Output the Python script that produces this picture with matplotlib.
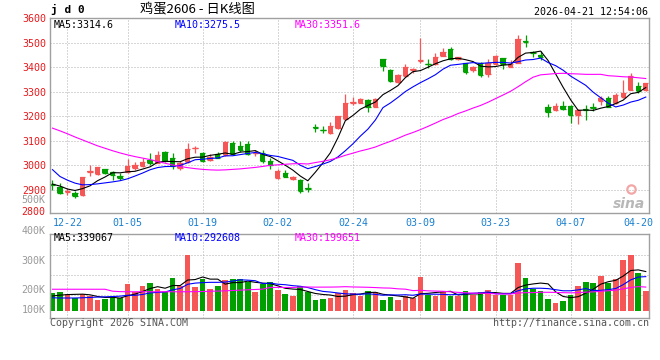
import matplotlib
matplotlib.use('Agg')
import matplotlib.pyplot as plt
import numpy as np
import pandas as pd

# jd2606 daily bars, 2025-12-18 .. 2026-04-21
opens = [2926, 2912, 2892, 2889, 2879, 2974, 2965, 2984, 2975, 2958,
         2972, 2989, 2997, 3022, 3012, 3056, 3031, 2990, 3013, 3070,
         3051, 3021, 3047, 3041, 3093, 3081, 3087, 3050, 3051, 3019,
         2949, 2971, 2944, 2941, 2909, 3155, 3146, 3131, 3151, 3188,
         3254, 3256, 3267, 3239, 3432, 3389, 3339, 3364, 3388, 3425,
         3414, 3413, 3447, 3473, 3432, 3416, 3389, 3419, 3372, 3412,
         3436, 3402, 3416, 3506, 3463, 3452, 3237, 3226, 3242, 3242,
         3206, 3228, 3237, 3264, 3273, 3253, 3280, 3307, 3324, 3307]
highs = [2940, 2928, 2910, 2895, 2952, 3000, 2995, 2986, 2977, 2968,
         3026, 3016, 3031, 3052, 3057, 3058, 3052, 3020, 3090, 3078,
         3053, 3048, 3055, 3099, 3100, 3099, 3100, 3065, 3065, 3030,
         2987, 2980, 2958, 2944, 2930, 3170, 3161, 3178, 3201, 3291,
         3280, 3273, 3271, 3273, 3432, 3391, 3371, 3412, 3398, 3520,
         3432, 3457, 3477, 3484, 3443, 3419, 3406, 3423, 3432, 3450,
         3439, 3429, 3531, 3531, 3466, 3466, 3250, 3253, 3263, 3246,
         3229, 3246, 3256, 3283, 3283, 3296, 3348, 3375, 3341, 3337]
lows = [2899, 2883, 2880, 2869, 2876, 2955, 2962, 2967, 2941, 2940,
        2970, 2983, 2994, 3003, 3010, 3014, 2986, 2983, 3011, 3049,
        3016, 3020, 3030, 3040, 3044, 3055, 3042, 3037, 3012, 2987,
        2946, 2953, 2941, 2887, 2893, 3138, 3133, 3128, 3148, 3185,
        3246, 3253, 3219, 3237, 3386, 3339, 3337, 3361, 3375, 3419,
        3398, 3409, 3446, 3429, 3429, 3371, 3382, 3359, 3359, 3409,
        3391, 3400, 3416, 3481, 3440, 3429, 3199, 3223, 3226, 3172,
        3168, 3185, 3223, 3246, 3237, 3250, 3273, 3307, 3296, 3305]
closes = [2920, 2888, 2894, 2874, 2952, 2977, 2992, 2970, 2962, 2949,
          2998, 3002, 3015, 3008, 3042, 3017, 2998, 3011, 3069, 3073,
          3019, 3034, 3032, 3097, 3045, 3064, 3045, 3052, 3019, 3001,
          2978, 2954, 2954, 2897, 2905, 3152, 3143, 3161, 3201, 3256,
          3257, 3271, 3237, 3271, 3406, 3344, 3368, 3402, 3391, 3428,
          3412, 3440, 3461, 3432, 3440, 3382, 3402, 3368, 3416, 3447,
          3412, 3412, 3515, 3503, 3460, 3440, 3219, 3242, 3230, 3206,
          3226, 3225, 3234, 3276, 3239, 3287, 3296, 3364, 3303, 3337]
volumes = [157000, 165000, 145000, 107000, 145000, 128000, 92000, 101000, 116000, 107000,
           233000, 165000, 216000, 245000, 189000, 165000, 283000, 216000, 488000, 210000,
           277000, 189000, 216000, 268000, 277000, 277000, 254000, 165000, 233000, 254000,
           180000, 145000, 131000, 216000, 165000, 92000, 101000, 107000, 151000, 180000,
           157000, 128000, 172000, 165000, 92000, 121000, 92000, 128000, 107000, 292000,
           136000, 128000, 160000, 128000, 131000, 172000, 136000, 165000, 180000, 136000,
           136000, 136000, 421000, 289000, 187000, 174000, 101000, 69000, 86000, 136000,
           216000, 254000, 245000, 306000, 245000, 277000, 444000, 488000, 333000, 172000]

# the first days of each average depend on bars before the window
ma5_head = [2924, 2916, 2904, 2898]
ma10_head = [2983, 2955, 2940, 2928, 2921, 2922, 2925, 2929, 2933]
ma30_head = [3152, 3141, 3129, 3116, 3104, 3092, 3080, 3070, 3060, 3051,
             3043, 3036, 3030, 3024, 3016, 3009, 3002, 2996, 2991, 2987,
             2984, 2982, 2981, 2982, 2984, 2986, 2989, 2992, 2996]
vol_ma5_head = [128000, 135000, 140000, 142000]
vol_ma10_head = [112000, 110000, 110000, 110000, 112000, 115000, 118000, 120000, 123000]
vol_ma30_head = [187000, 187000, 187000, 187000, 187000, 187000, 187000, 187000, 170000, 166000,
                 165000, 165000, 165000, 165000, 165000, 165000, 165000, 165000, 165000, 166000,
                 167000, 169000, 171000, 173000, 176000, 179000, 182000, 185000, 188000]

ma_names = ['MA5', 'MA10', 'MA30']
ma_price_last = ['3314.6', '3275.5', '3351.6']
ma_vol_last = ['339067', '292608', '199651']

tick_labels = ['12-22', '01-05', '01-19', '02-02', '02-24', '03-09', '03-23', '04-07', '04-20']
tick_pos = [2, 10, 20, 30, 40, 49, 59, 69, 78]
price_ticks = [2900, 3000, 3100, 3200, 3300, 3400, 3500, 3600]
vol_labels = ['400K', '300K', '200K', '100K']

W, H = 660, 360
RED = '#f55656'
GREEN = '#00a000'
GRID = '#b0b0b0'
FRAME = '#a0a0a0'
MA_COLORS = ['black', '#0000ff', '#ff00ff']
MONO = 'DejaVu Sans Mono'
FS = 7.2


def rect(x0, y0, x1, y1):
    return [x0 / W, 1 - y1 / H, (x1 - x0) / W, (y1 - y0) / H]


def moving_avg(values, n, head):
    out = pd.Series(values, dtype=float).rolling(n).mean().to_numpy()
    out[:n - 1] = head
    return out


fig = plt.figure(figsize=(W / 100, H / 100), dpi=100)
fig.patch.set_facecolor('white')


def ftext(x, y, s, **kw):
    kw.setdefault('family', MONO)
    kw.setdefault('fontsize', FS)
    fig.text(x / W, 1 - y / H, s, va='center', **kw)


o = np.array(opens, dtype=float)
h = np.array(highs, dtype=float)
l = np.array(lows, dtype=float)
c = np.array(closes, dtype=float)
v = np.array(volumes, dtype=float)
x = np.arange(len(c))
colors = np.where(c >= o, RED, GREEN)
bw = 0.72

# ---- price panel
ax = fig.add_axes(rect(50, 18.2, 649, 212.7))
ax.vlines(x, l, h, colors=colors, lw=0.9, zorder=2)
ax.bar(x, np.abs(c - o), bottom=np.minimum(o, c), width=bw, color=colors, linewidth=0, zorder=2)
ax.hlines(o, x - bw / 2, x + bw / 2, colors=colors, lw=0.9, zorder=2)
ax.hlines(c, x - bw / 2, x + bw / 2, colors=colors, lw=0.9, zorder=2)
for n, head, col in zip([5, 10, 30], [ma5_head, ma10_head, ma30_head], MA_COLORS):
    ax.plot(x, moving_avg(c, n, head), color=col, lw=0.8, zorder=3)

ax.set_xlim(-0.33, 79.43)
ax.set_ylim(2807.5, 3600)
ax.set_yticks(price_ticks)
ax.set_yticklabels([str(t) for t in price_ticks], family=MONO, fontsize=FS, color='#e8191c')
ax.set_xticks(tick_pos)
ax.set_xticklabels(tick_labels, family=MONO, fontsize=FS, color='#1a80d0')
ax.tick_params(length=0, pad=3)
ax.tick_params(axis='x', pad=4)
ax.grid(axis='y', ls=(0, (1, 2)), color=GRID, lw=0.72)
for p in tick_pos[:-1]:
    ax.axvline(p, ls=(0, (1, 2)), color=GRID, lw=0.72, zorder=1)
for s in ax.spines.values():
    s.set_color(FRAME)
    s.set_linewidth(1.0)

# sina watermark
ax.plot([0.97], [0.12], transform=ax.transAxes, marker='o', ms=6, mfc='none',
        mec='#f3a6a6', mew=1.6, zorder=4)
ax.text(0.993, 0.045, 'sina', transform=ax.transAxes, ha='right', va='center',
        fontsize=10, style='italic', weight='bold', color='#b8b8b8', family='DejaVu Sans')

# ---- volume panel
vax = fig.add_axes(rect(50, 234, 649, 317.5))
vax.bar(x, v, width=0.75, color=colors, linewidth=0, zorder=2)
for n, head, col in zip([5, 10, 30], [vol_ma5_head, vol_ma10_head, vol_ma30_head], MA_COLORS):
    vax.plot(x, moving_avg(v, n, head), color=col, lw=0.8, zorder=3)
vol_per_px = 8800
vax.set_xlim(ax.get_xlim())
vax.set_ylim(-7 * vol_per_px, (310.5 - 234) * vol_per_px)
vax.set_yticks([(310.5 - r) * vol_per_px for r in (255, 275, 295)])
vax.set_yticklabels([])
vax.set_xticks([])
vax.tick_params(length=0)
vax.grid(axis='y', ls=(0, (1, 2)), color=GRID, lw=0.72)
for p in tick_pos[:-1]:
    vax.axvline(p, ls=(0, (1, 2)), color=GRID, lw=0.72, zorder=1)
for s in vax.spines.values():
    s.set_color(FRAME)
    s.set_linewidth(1.0)

# ---- texts
ftext(51, 9.5, 'j d 0', weight='bold', fontsize=8)
ftext(140, 9.5, '鸡蛋2606 - 日K线图', family=['Noto Sans CJK SC', 'DejaVu Sans'], fontsize=9.5)
ftext(648, 12, '2026-04-21 12:54:06', ha='right')

for xp, name, val, col in zip([54, 175, 295], ma_names, ma_price_last, MA_COLORS):
    ftext(xp, 24.5, name + ':' + val, color=col)
for xp, name, val, col in zip([54, 175, 295], ma_names, ma_vol_last, MA_COLORS):
    ftext(xp, 238, name + ':' + val, color=col)

ftext(45.6, 211.7, '2800', ha='right', color='#e8191c')
ftext(45.6, 200, '500K', ha='right', color='#999999')
for yp, lab in zip([230.7, 260.7, 290, 310], vol_labels):
    ftext(45.6, yp, lab, ha='right', color='#999999')

ftext(50, 323.5, 'Copyright 2026 SINA.COM', color='#555555')
ftext(649, 323.5, 'http://finance.sina.com.cn', ha='right', color='#555555')

fig.savefig('out.png', dpi=100)
